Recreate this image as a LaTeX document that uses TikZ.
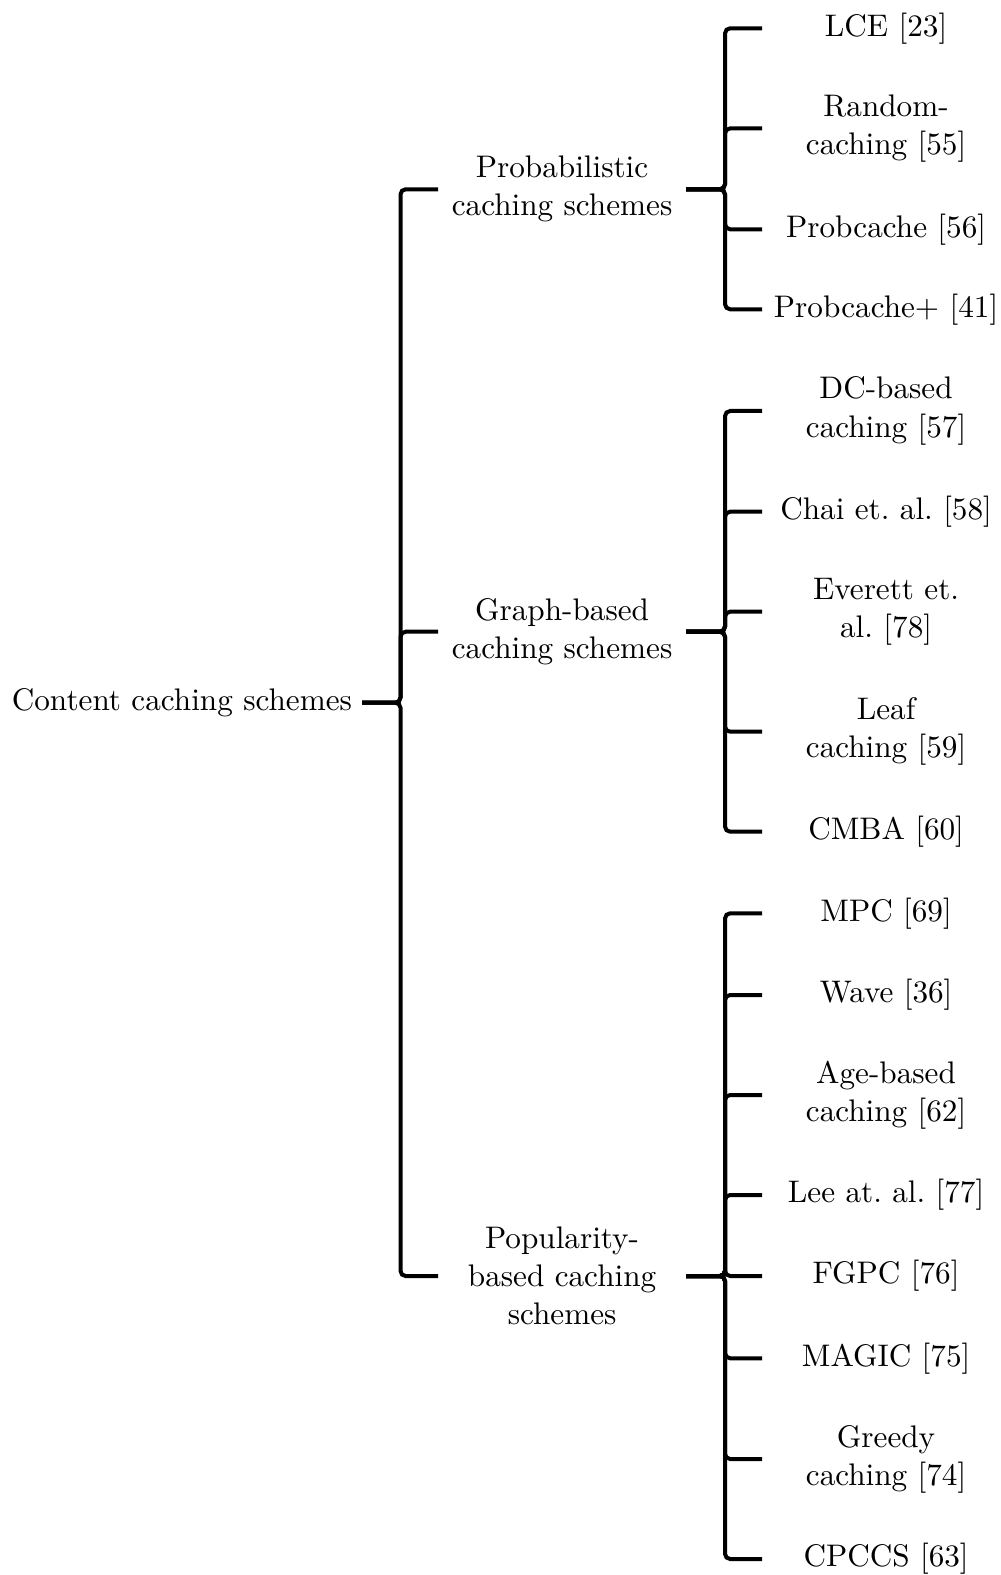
\documentclass[tikz,border=0pt]{standalone}
\begin{document}
\begin{tikzpicture}[x=0.35088pt, y=-0.35088pt,
  every node/.style={font=\fontsize{10.95}{13.4}\selectfont\frenchspacing},
  box/.style={text width=80pt, align=center},
  link/.style={line width=1.4pt, rounded corners=1.8pt}]
\useasboundingbox (0,0) rectangle (1001,1575);

% bar positions of the two branching levels
\coordinate (barA) at (400.5,0);
\coordinate (barB) at (725,0);

% root
\node[anchor=east] (root) at (362,702.7) {Content caching schemes};

% first level
\node[box, anchor=west] (prob) at (438,189.3) {Probabilistic\\caching schemes};
\node[box, anchor=west] (graph) at (438,631.7) {Graph-based\\caching schemes};
\node[box, anchor=west] (pop) at (438,1276) {Popularity-\\based caching\\schemes};

% leaves: probabilistic
\node[box, anchor=west] (lce) at (762,28.3) {LCE [23]};
\node[box, anchor=west] (rnd) at (762,128.4) {Random-\\caching [55]};
\node[box, anchor=west] (pc) at (762,229.3) {Probcache [56]};
\node[box, anchor=west] (pcp) at (762,309.3) {Probcache+ [41]};

% leaves: graph-based
\node[box, anchor=west] (dc) at (762,411) {DC-based\\caching [57]};
\node[box, anchor=west] (chai) at (762,511.7) {Chai et. al. [58]};
\node[box, anchor=west] (ev) at (762,611.7) {Everett et.\\al. [78]};
\node[box, anchor=west] (leaf) at (762,731.7) {Leaf\\caching [59]};
\node[box, anchor=west] (cmba) at (762,831.7) {CMBA [60]};

% leaves: popularity-based
\node[box, anchor=west] (mpc) at (762,913.3) {MPC [69]};
\node[box, anchor=west] (wave) at (762,995) {Wave [36]};
\node[box, anchor=west] (age) at (762,1095) {Age-based\\caching [62]};
\node[box, anchor=west] (lee) at (762,1195) {Lee at. al. [77]};
\node[box, anchor=west] (fgpc) at (762,1276) {FGPC [76]};
\node[box, anchor=west] (magic) at (762,1358.3) {MAGIC [75]};
\node[box, anchor=west] (greedy) at (762,1459) {Greedy\\caching [74]};
\node[box, anchor=west] (cpccs) at (762,1559) {CPCCS [63]};

% connectors
\foreach \c in {prob,graph,pop}
  \draw[link] (root.east) -- (root.east -| barA) |- (\c.west);
\foreach \c in {lce,rnd,pc,pcp}
  \draw[link] (prob.east) -- (prob.east -| barB) |- (\c.west);
\foreach \c in {dc,chai,ev,leaf,cmba}
  \draw[link] (graph.east) -- (graph.east -| barB) |- (\c.west);
\foreach \c in {mpc,wave,age,lee,fgpc,magic,greedy,cpccs}
  \draw[link] (pop.east) -- (pop.east -| barB) |- (\c.west);
\end{tikzpicture}
\end{document}
